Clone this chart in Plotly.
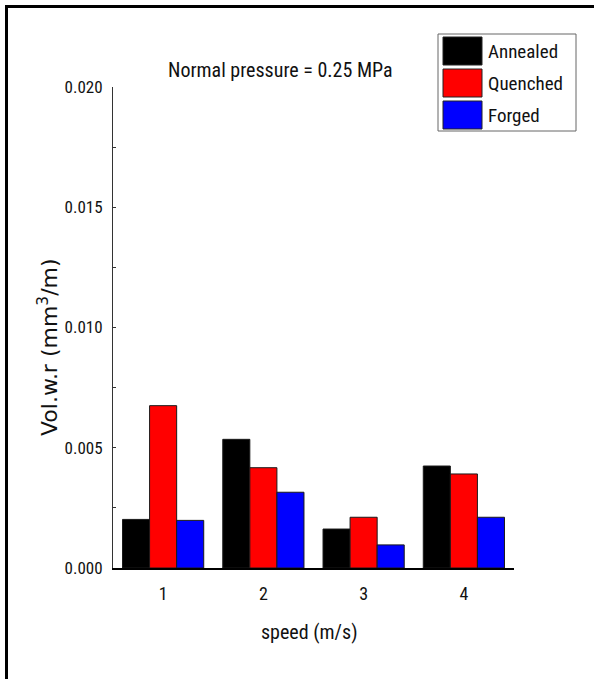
import plotly.graph_objects as go

# ---- data ----
speeds = [1, 2, 3, 4]
annealed = [0.00202, 0.00535, 0.00162, 0.00424]
quenched = [0.00675, 0.00417, 0.00211, 0.00391]
forged = [0.00198, 0.00315, 0.00096, 0.00211]
series_names = ["Annealed", "Quenched", "Forged"]
series_colors = ["#000000", "#ff0000", "#0000ff"]
y_ticks = [0.000, 0.005, 0.010, 0.015, 0.020]
y_ticklabels = ["0.000", "0.005", "0.010", "0.015", "0.020"]
x_ticklabels = ["1", "2", "3", "4"]

W, H = 594, 679
L, R, T, B = 113, 80, 87, 111
PW, PH = W - L - R, H - T - B

def px(x):
    return (x - L) / PW

def py(y):
    return (H - B - y) / PH

NARROW = "Roboto Condensed, Liberation Sans, sans-serif"
WIDE = "DejaVu Sans, Liberation Sans, sans-serif"
TXT = "#111111"

fig = go.Figure()
for name, vals, col in zip(series_names, [annealed, quenched, forged], series_colors):
    fig.add_trace(go.Bar(x=speeds, y=vals, name=name,
                         marker=dict(color=col, line=dict(color="#1a1a1a", width=1)),
                         showlegend=False, hoverinfo="skip"))

fig.update_layout(
    width=W, height=H, barmode="group", bargap=0.19, bargroupgap=0,
    margin=dict(l=L, r=R, t=T, b=B, autoexpand=False),
    paper_bgcolor="white", plot_bgcolor="white",
    font=dict(family=NARROW, color=TXT, size=17),
    xaxis=dict(range=[0.5, 4.5], tickmode="array", tickvals=speeds, ticktext=x_ticklabels,
               showline=True, linecolor="#000000", linewidth=2, showgrid=False, zeroline=False,
               ticks="", ticklabelstandoff=8, tickfont=dict(family=NARROW, size=18, color=TXT)),
    yaxis=dict(range=[0, 0.020], tickmode="array", tickvals=y_ticks, ticktext=y_ticklabels,
               showline=True, linecolor="#333333", linewidth=1, showgrid=False, zeroline=False,
               ticks="inside", ticklen=3, tickcolor="#333333",
               minor=dict(ticks="inside", ticklen=3, dtick=0.0025, tickcolor="#333333", showgrid=False),
               ticklabelstandoff=6, tickfont=dict(family=NARROW, size=17, color=TXT)),
)

shapes = []
annotations = []
# outer frame (right and bottom edges lie outside the picture)
shapes.append(dict(type="rect", xref="paper", yref="paper", x0=px(6.5), y0=py(900), x1=px(900), y1=py(6.5),
                   line=dict(color="#000000", width=3), fillcolor="rgba(0,0,0,0)", layer="above"))
# legend
shapes.append(dict(type="rect", xref="paper", yref="paper", x0=px(438), x1=px(576), y0=py(131), y1=py(34),
                   line=dict(color="#666666", width=1), fillcolor="white"))
rows = [(37, 65), (69, 97), (101, 129)]
for (ya, yb), name, col in zip(rows, series_names, series_colors):
    shapes.append(dict(type="rect", xref="paper", yref="paper", x0=px(443), x1=px(482), y0=py(yb), y1=py(ya),
                       line=dict(color="#222222", width=1), fillcolor=col))
    annotations.append(dict(xref="paper", yref="paper", x=px(486), y=py((ya + yb) / 2), text=name,
                            showarrow=False, xanchor="left", yanchor="middle",
                            font=dict(family=NARROW, size=19, color=TXT)))

annotations.append(dict(xref="paper", yref="paper", x=px(280), y=py(70), text="Normal pressure = 0.25 MPa",
                        showarrow=False, xanchor="center", yanchor="middle",
                        font=dict(family=NARROW, size=20, color=TXT)))
annotations.append(dict(xref="paper", yref="paper", x=px(309), y=py(632), text="speed (m/s)",
                        showarrow=False, xanchor="center", yanchor="middle",
                        font=dict(family=NARROW, size=20, color=TXT)))
annotations.append(dict(xref="paper", yref="paper", x=px(48), y=py(347), text="Vol.w.r (mm<sup>3</sup>/m)",
                        showarrow=False, xanchor="center", yanchor="middle", textangle=-90,
                        font=dict(family=WIDE, size=22, color=TXT)))

fig.update_layout(shapes=shapes, annotations=annotations)
fig.write_html("out.html", config={"displayModeBar": False},
               post_script="document.body.style.margin='0';")
